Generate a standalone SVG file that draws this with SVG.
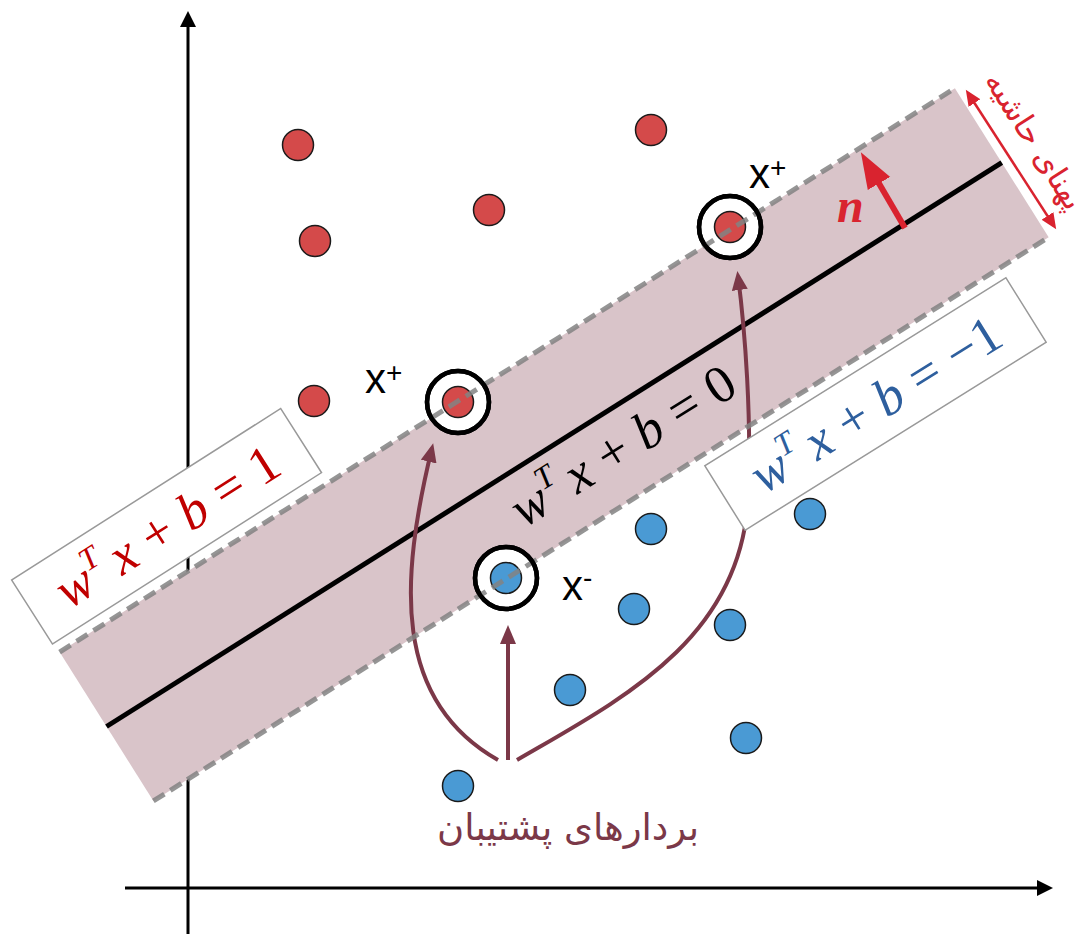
<svg xmlns="http://www.w3.org/2000/svg" width="1092" height="934" viewBox="0 0 1092 934">
<style>
.axis{stroke:#000;stroke-width:3;fill:none}
.band{fill:#d9c4c9}
.edge{stroke:#828282;stroke-width:5;stroke-dasharray:13 7;fill:none;opacity:0.85}
.hyper{stroke:#000;stroke-width:5;fill:none}
.sv{stroke:#7b3848;stroke-width:4;fill:none;marker-end:url(#mv)}
.box{fill:#fff;stroke:#999;stroke-width:1.5}
.pr{fill:#d44a4a;stroke:#1a1a1a;stroke-width:1.5}
.pb{fill:#4a9ad4;stroke:#1a1a1a;stroke-width:1.5}
.ring{fill:#fff;stroke:#000;stroke-width:4.5}
.ringo{fill:none;stroke:#000;stroke-width:4.5}
.m{font-family:"Liberation Serif",serif;font-size:53px}
.i{font-style:italic}
.lbl{font-family:"Liberation Sans",sans-serif;font-size:42px;fill:#000}
.fa{font-family:"DejaVu Sans",sans-serif}
</style>
<defs>
<marker id="mv" markerUnits="userSpaceOnUse" markerWidth="20" markerHeight="18" refX="14" refY="8" orient="auto"><path d="M0,0 L19,8 L0,16 z" fill="#7b3848"/></marker>
<marker id="ma" markerUnits="userSpaceOnUse" markerWidth="18" markerHeight="16" refX="3" refY="8" orient="auto"><path d="M0,0 L16,8 L0,16 z" fill="#000"/></marker>
<marker id="mr" markerUnits="userSpaceOnUse" markerWidth="18" markerHeight="14" refX="12" refY="7" orient="auto-start-reverse"><path d="M0,0 L16,7 L0,14 z" fill="#d9232f"/></marker>
<marker id="mn" markerUnits="userSpaceOnUse" markerWidth="40" markerHeight="28" refX="4" refY="13" orient="auto"><path d="M0,0 L36,13 L0,26 z" fill="#d9232f"/></marker>
</defs>

<g id="axes">
<line class="axis" x1="188" y1="934" x2="188" y2="24" marker-end="url(#ma)"/>
<line class="axis" x1="125" y1="888" x2="1040" y2="888" marker-end="url(#ma)"/>
</g>

<g id="margin-band" transform="translate(106.5,726.5) rotate(-32.2)">
<rect class="band" x="0" y="-88" width="1058" height="176"/>
<line class="hyper" x1="0" y1="0" x2="1058" y2="0"/>
</g>

<g id="connectors">
<path class="sv" d="M498,760 C392,700 400,580 432,448"/>
<line class="sv" x1="508" y1="760" x2="508" y2="630"/>
<path class="sv" d="M517,760 C620,700 740,640 748,500 C752,420 745,330 738,276"/>
</g>

<g id="label-hyperplane" transform="translate(623,446) rotate(-32.2)">
<text class="m" text-anchor="middle" y="17" fill="#000"><tspan class="i">w</tspan><tspan class="i" font-size="32" dy="-22">T</tspan><tspan class="i" dy="22" dx="10">x</tspan><tspan dx="14">+</tspan><tspan class="i" dx="14">b</tspan><tspan dx="14">=</tspan><tspan dx="14">0</tspan></text>
</g>

<g id="label-plus" transform="translate(167,526) rotate(-32.5)">
<rect class="box" x="-160" y="-38" width="319" height="76"/>
<text class="m" text-anchor="middle" y="18" fill="#c00000"><tspan class="i">w</tspan><tspan class="i" font-size="32" dy="-22">T</tspan><tspan class="i" dy="22" dx="10">x</tspan><tspan dx="14">+</tspan><tspan class="i" dx="14">b</tspan><tspan dx="14">=</tspan><tspan dx="14">1</tspan></text>
</g>

<g id="label-minus" transform="translate(875.5,404) rotate(-32)">
<rect class="box" x="-177.5" y="-38" width="355" height="76"/>
<text class="m" text-anchor="middle" y="18" fill="#2e5f9e"><tspan class="i">w</tspan><tspan class="i" font-size="32" dy="-22">T</tspan><tspan class="i" dy="22" dx="10">x</tspan><tspan dx="14">+</tspan><tspan class="i" dx="14">b</tspan><tspan dx="14">=</tspan><tspan dx="14">−1</tspan></text>
</g>

<g id="red-points">
<circle class="pr" cx="298" cy="145" r="15.5"/>
<circle class="pr" cx="651" cy="130" r="15.5"/>
<circle class="pr" cx="489" cy="210" r="15.5"/>
<circle class="pr" cx="315" cy="241" r="15.5"/>
<circle class="pr" cx="314" cy="401" r="15.5"/>
</g>
<g id="blue-points">
<circle class="pb" cx="651" cy="529" r="15.5"/>
<circle class="pb" cx="810" cy="514" r="15.5"/>
<circle class="pb" cx="634" cy="609" r="15.5"/>
<circle class="pb" cx="730" cy="625" r="15.5"/>
<circle class="pb" cx="570" cy="690" r="15.5"/>
<circle class="pb" cx="746" cy="738" r="15.5"/>
<circle class="pb" cx="458" cy="786" r="15.5"/>
</g>

<g id="sv-plus-1">
<circle class="ring" cx="458" cy="402" r="31"/>
<circle class="pr" cx="458" cy="402" r="15.5"/>
</g>
<g id="sv-plus-2">
<circle class="ring" cx="730" cy="227" r="31"/>
<circle class="pr" cx="730" cy="227" r="15.5"/>
</g>
<g id="sv-minus">
<circle class="ring" cx="506" cy="578" r="31"/>
<circle class="pb" cx="506" cy="578" r="15.5"/>
</g>

<g id="margin-edges" transform="translate(106.5,726.5) rotate(-32.2)">
<line class="edge" x1="0" y1="-88" x2="1058" y2="-88"/>
<line class="edge" x1="0" y1="88" x2="1058" y2="88"/>
</g>
<g id="rings-top">
<circle class="ringo" cx="458" cy="402" r="31"/>
<circle class="ringo" cx="730" cy="227" r="31"/>
<circle class="ringo" cx="506" cy="578" r="31"/>
</g>

<g id="labels-x">
<text class="lbl" x="365" y="393">x<tspan font-size="28" dy="-11">+</tspan></text>
<text class="lbl" x="749" y="188">x<tspan font-size="28" dy="-11">+</tspan></text>
<text class="lbl" x="562" y="600">x<tspan font-size="28" dy="-13">-</tspan></text>
</g>

<g id="normal">
<line x1="905" y1="228" x2="877" y2="180" stroke="#d9232f" stroke-width="6" marker-end="url(#mn)"/>
<text x="837" y="222" font-family="Liberation Serif,serif" font-size="48" font-weight="bold" font-style="italic" fill="#d9232f">n</text>
</g>

<g id="margin-width">
<line x1="968" y1="93" x2="1054" y2="226" stroke="#d9232f" stroke-width="2.5" marker-start="url(#mr)" marker-end="url(#mr)"/>
<g transform="translate(1009,157) rotate(57.5)">
<text class="fa" x="0" y="-20" text-anchor="middle" font-size="31" fill="#d9232f">پهنای حاشیه</text>
</g>
</g>

<g id="label-sv">
<text class="fa" x="568" y="840" text-anchor="middle" font-size="37" fill="#7b3848">بردارهای پشتیبان</text>
</g>
</svg>
